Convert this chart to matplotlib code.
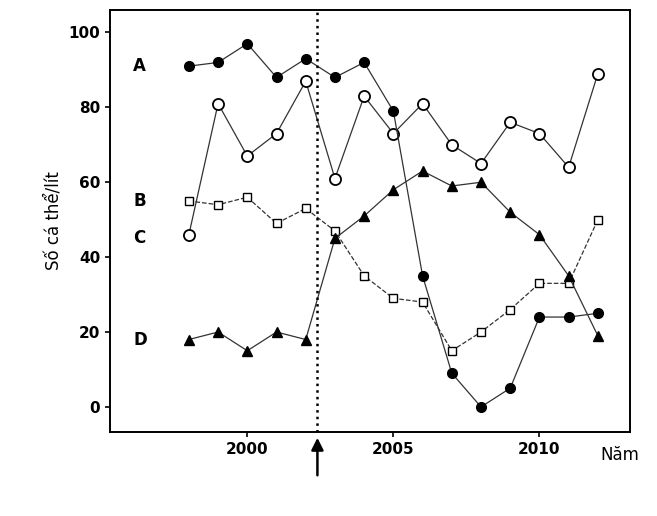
import matplotlib.pyplot as plt

years = list(range(1998, 2013))
series_a = [91, 92, 97, 88, 93, 88, 92, 79, 35, 9, 0, 5, 24, 24, 25]
series_open = [46, 81, 67, 73, 87, 61, 83, 73, 81, 70, 65, 76, 73, 64, 89]
series_b = [55, 54, 56, 49, 53, 47, 35, 29, 28, 15, 20, 26, 33, 33, 50]
series_d = [18, 20, 15, 20, 18, 45, 51, 58, 63, 59, 60, 52, 46, 35, 19]
labels = [("A", 91), ("B", 55), ("C", 45), ("D", 18)]

fig = plt.figure(figsize=(6.57, 5.16), dpi=100)
ax = fig.add_axes([110 / 657, 84 / 516, 520 / 657, 422 / 516])

ax.plot(years, series_open, '-', color='#333', lw=0.9, marker='o', ms=8,
        mfc='white', mec='black', mew=1.3)
ax.plot(years, series_b, '--', color='#333', lw=0.9, marker='s', ms=6,
        mfc='white', mec='black', mew=1.0)
ax.plot(years, series_d, '-', color='#333', lw=0.9, marker='^', ms=7,
        mfc='black', mec='black')
ax.plot(years, series_a, '-', color='#333', lw=0.9, marker='o', ms=7,
        mfc='black', mec='black')

ax.axvline(2002.4, color='black', ls=':', lw=1.8)
ax.annotate('', xy=(2002.4, -7.5), xytext=(2002.4, -19),
            xycoords='data', annotation_clip=False,
            arrowprops=dict(arrowstyle='-|>', color='black', lw=1.8,
                            mutation_scale=18))

for name, y in labels:
    ax.text(1996.1, y, name, fontsize=12, fontweight='bold', va='center')

ax.set_xlim(1995.3, 2013.1)
ax.set_ylim(-6.7, 106)
ax.set_xticks([2000, 2005, 2010])
ax.set_yticks([0, 20, 40, 60, 80, 100])
ax.tick_params(labelsize=11, direction='out', width=1.2)
for t in ax.get_xticklabels() + ax.get_yticklabels():
    t.set_fontweight('bold')
for s in ax.spines.values():
    s.set_linewidth(1.4)
ax.set_ylabel('Số cá thể/lít', fontsize=12)
ax.text(2012.1, -10.5, 'Năm', fontsize=12, va='top', ha='left')

fig.savefig('out.png', dpi=100)
